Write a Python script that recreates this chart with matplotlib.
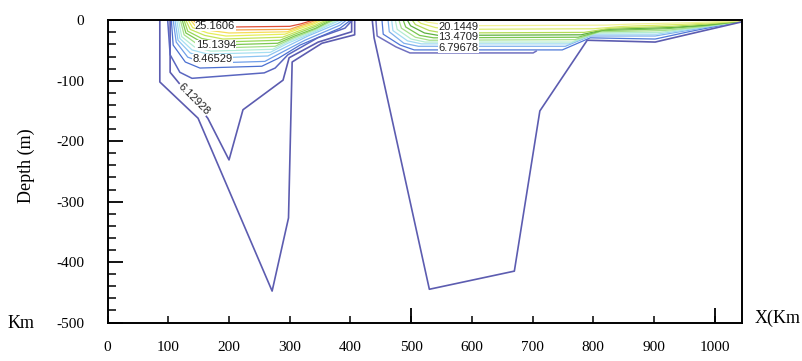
import matplotlib
matplotlib.use('Agg')
import matplotlib.pyplot as plt
from matplotlib.ticker import MultipleLocator, FixedLocator

plt.rcParams['font.family'] = ['Liberation Serif', 'DejaVu Serif']
plt.rcParams['axes.unicode_minus'] = False

# 左の海盆 (x: km, d: m)
left_outer_x = [86, 86, 149, 271, 298, 304, 353, 407, 407]
left_outer_d = [0, -102, -162, -448, -327, -69, -38, -24, 0]
left_6129_x = [103, 103, 165, 200, 223, 289, 299, 347, 402, 402]
left_6129_d = [0, -86, -162, -231, -148, -99, -62, -36, -19, 0]
left_7_x = [99, 103, 119, 139, 258, 276, 297, 346, 391, 403]
left_7_d = [0, -57, -86, -96, -87, -79, -57, -29, -13, 0]

# 左の海盆の色付き等値線 (下から上へ)
left_color_x = [
    [105, 108, 128, 152, 254, 281, 317, 383, 400],
    [108, 113, 132, 160, 259, 287, 325, 383, 393],
    [111, 116, 136, 160, 264, 292, 330, 380, 388],
    [114, 119, 139, 165, 268, 297, 337, 376, 383],
    [117, 122, 143, 170, 272, 300, 340, 372, 378],
    [120, 126, 147, 175, 276, 304, 342, 368, 374],
    [123, 129, 151, 180, 280, 308, 343, 364, 370],
    [126, 132, 155, 185, 284, 311, 343, 360, 366],
    [129, 136, 160, 190, 288, 314, 342, 355, 361],
    [133, 140, 165, 195, 292, 316, 340, 350, 356],
    [137, 145, 170, 200, 296, 318, 337, 345, 350],
    [141, 150, 176, 205, 300, 320, 333, 340, 345],
    [146, 155, 182, 210, 300, 318, 328, 334, 338],
]
left_color_d = [
    [0, -41, -69, -79, -76, -63, -41, -13, 0],
    [0, -36, -61, -71, -68, -53, -33, -8, 0],
    [0, -33, -54, -63, -59, -45, -26, -5, 0],
    [0, -30, -49, -56, -53, -38, -21, -3, 0],
    [0, -27, -44, -51, -48, -34, -18, -3, 0],
    [0, -24, -39, -46, -43, -30, -15, -2, 0],
    [0, -21, -34, -41, -38, -26, -13, -2, 0],
    [0, -18, -30, -36, -33, -22, -10, -2, 0],
    [0, -15, -25, -31, -28, -18, -8, -2, 0],
    [0, -12, -21, -26, -23, -14, -6, -1, 0],
    [0, -10, -17, -21, -19, -11, -5, -1, 0],
    [0, -8, -13, -16, -15, -8, -4, -1, 0],
    [0, -5, -9, -11, -10, -6, -3, -1, 0],
]
left_colors = ['#4a6fd0', '#6f9ee8', '#8cc4f2', '#a6dff2', '#b4ecd8', '#a4e08a',
               '#7cc850', '#98d858', '#c4e45a', '#e6ee5a', '#f6dc58', '#f2a448', '#e0503a']

# 右の海盆
right_outer_x = [436, 439, 530, 670, 712, 790, 902, 953, 1043]
right_outer_d = [0, -29, -445, -415, -150, -33, -36, -24, -3]
right_p1_x = [442, 444, 475, 498, 701, 706]
right_p1_d = [0, -26, -44, -54, -54, -51]

right_color_x = [
    [452, 454, 482, 505, 749, 795, 902, 957, 1043],
    [462, 464, 488, 512, 754, 795, 902, 960, 1043],
    [468, 470, 494, 517, 760, 800, 905, 965, 1043],
    [474, 477, 500, 523, 765, 805, 910, 970, 1043],
    [480, 484, 507, 530, 770, 810, 915, 975, 1043],
    [487, 491, 514, 537, 775, 815, 920, 980, 1043],
    [494, 499, 522, 545, 780, 820, 925, 985, 1043],
    [502, 507, 530, 553, 785, 830, 930, 990, 1043],
    [510, 516, 540, 562, 800, 850, 940, 1000, 1043],
    [520, 527, 552, 575, 820, 870, 960, 1010, 1043],
]
right_color_d = [
    [0, -23, -41, -49, -49, -29, -31, -19, -2],
    [0, -19, -38, -43, -43, -26, -26, -16, -2],
    [0, -17, -34, -39, -39, -23, -23, -14, -2],
    [0, -15, -31, -36, -36, -21, -20, -12, -2],
    [0, -13, -28, -33, -32, -19, -17, -11, -2],
    [0, -11, -25, -29, -28, -17, -14, -9, -2],
    [0, -9, -21, -25, -24, -15, -12, -8, -1],
    [0, -7, -17, -21, -20, -13, -10, -6, -1],
    [0, -5, -12, -15, -14, -10, -7, -4, -1],
    [0, -3, -7, -9, -8, -6, -4, -2, -1],
]
right_colors = ['#4f78d8', '#7fb0ec', '#a2daf2', '#b4ecd0', '#a6e08c', '#78c64e',
                '#5eb040', '#b4dc58', '#dcec6a', '#f2f298']

# ラベル
label_text = ['25.1606', '15.1394', '8.46529', '6.12928', '20.1449', '13.4709', '6.79678']
label_x = [177, 178, 173, 142, 578, 578, 578]
label_d = [-9.5, -41, -64, -130, -11, -28, -46]
label_rot = [0, 0, 0, -45, 0, 0, 0]

x_ticks = list(range(0, 1001, 100))
y_ticks = list(range(-500, 1, 100))

outline = '#5c5cb0'

fig = plt.figure(figsize=(8.03, 3.61), dpi=100)
ax = fig.add_axes([107.6 / 803, 1 - 322.5 / 361, (742 - 107.6) / 803, (322.5 - 20.3) / 361])

for xs, ds, c in zip(left_color_x, left_color_d, left_colors):
    ax.plot(xs, ds, color=c, lw=0.9)
for xs, ds, c in zip(right_color_x, right_color_d, right_colors):
    ax.plot(xs, ds, color=c, lw=0.9)

ax.plot(left_outer_x, left_outer_d, color=outline, lw=1.2)
ax.plot(left_6129_x, left_6129_d, color=outline, lw=1.2)
ax.plot(left_7_x, left_7_d, color='#5a66c0', lw=1.1)
ax.plot(right_outer_x, right_outer_d, color=outline, lw=1.2)
ax.plot(right_p1_x, right_p1_d, color='#7070c0', lw=1.1)

for t, x, d, r in zip(label_text, label_x, label_d, label_rot):
    ax.text(x, d, t, fontsize=8, family=['Liberation Sans', 'DejaVu Sans'], rotation=r,
            ha='center', va='center', color='#222222',
            bbox=dict(fc='white', ec='none', pad=0.2))

ax.set_xlim(0, 1045)
ax.set_ylim(-500, 0)

ax.set_xticks(x_ticks)
ax.set_xticklabels([str(v) for v in x_ticks])
ax.xaxis.set_minor_locator(FixedLocator([500, 1000]))
ax.xaxis.remove_overlapping_locs = False
ax.set_yticks(y_ticks)
ax.set_yticklabels([str(v) for v in y_ticks])
ax.yaxis.set_minor_locator(MultipleLocator(20))

ax.tick_params(axis='x', which='major', direction='in', length=5, width=1.1, pad=13, labelsize=11)
ax.tick_params(axis='x', which='minor', direction='in', length=11, width=1.3)
ax.tick_params(axis='y', which='major', direction='in', length=11, width=1.3, pad=17, labelsize=11)
ax.tick_params(axis='y', which='minor', direction='in', length=5.5, width=1.1)

for s in ax.spines.values():
    s.set_linewidth(1.4)

fig.text(26 / 803, 1 - 166 / 361, 'Depth (m)', rotation=90, ha='center', va='center', fontsize=13)
fig.text(8 / 803, 1 - 324 / 361, 'Km', ha='left', va='center', fontsize=13)
fig.text(755 / 803, 1 - 318 / 361, 'X(Km', ha='left', va='center', fontsize=13)

fig.savefig('out.png', dpi=100)
